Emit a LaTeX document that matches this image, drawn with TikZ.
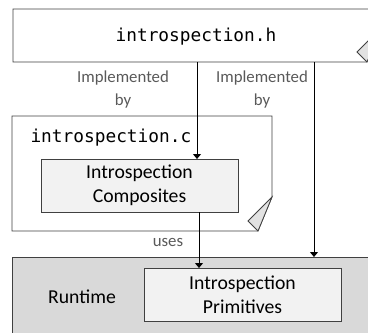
\documentclass[tikz,border=0pt]{standalone}
\usepackage{fontspec}
\setmainfont{Carlito}
\newfontfamily\codefont{DejaVu Sans Mono}
\usetikzlibrary{arrows.meta}
\definecolor{edge}{HTML}{404040}
\definecolor{boxfill}{HTML}{F2F2F2}
\definecolor{rtfill}{HTML}{D9D9D9}
\definecolor{foldfill}{HTML}{E2E2E2}
\definecolor{labelgray}{HTML}{595959}
\tikzset{
  frame/.style={draw=none, inner sep=0pt, outer sep=0pt},
  inner/.style={draw=edge, line width=0.8pt, fill=boxfill, inner sep=0pt, outer sep=0pt,
    align=center, font=\fontsize{19.7}{24}\selectfont},
  outline/.style={draw=edge, line width=0.8pt},
  fold/.style={draw=edge, line width=0.8pt, fill=foldfill, line join=miter},
  arr/.style={draw=black, line width=0.8pt, -{Triangle[width=8pt,length=5pt]}},
  lbl/.style={text=labelgray, align=center, font=\fontsize{16.8}{23}\selectfont},
}
\begin{document}
\begin{tikzpicture}[x=1pt,y=-1pt]
\useasboundingbox (0,0) rectangle (368,333);

% runtime layer (runs off the page)
\node[frame, minimum width=370pt, minimum height=90pt, anchor=north west] (rt) at (12,257) {};
\fill[rtfill] (rt.north west) rectangle (rt.south east);
\draw[outline] (rt.south west) -- (rt.north west) -- (rt.north east);
\node[font=\fontsize{19.7}{24}\selectfont] (rtlabel) at (82,297) {Runtime};

% header file with folded corner
\node[frame, minimum width=368pt, minimum height=53pt, anchor=north west] (hdr) at (13,9) {};
\draw[outline, fill=white] (hdr.north west) -- (hdr.north east) -- ([yshift=34pt]hdr.south east)
  -- ([xshift=-14pt]hdr.south east) -- (hdr.south west) -- cycle;
\draw[fold] ([yshift=34pt]hdr.south east) -- ([xshift=-24pt,yshift=10pt]hdr.south east)
  -- ([xshift=-14pt]hdr.south east) -- cycle;
\node[font=\codefont\fontsize{17.8}{20}\selectfont] (hname) at (196,37) {introspection.h};

% implementation file with folded corner
\node[frame, minimum width=260pt, minimum height=115pt, anchor=north west] (cfile) at (12,116) {};
\draw[outline, fill=white] (cfile.north west) -- (cfile.north east) -- ([yshift=34pt]cfile.south east)
  -- ([xshift=-14pt]cfile.south east) -- (cfile.south west) -- cycle;
\draw[fold] ([yshift=34pt]cfile.south east) -- ([xshift=-24pt,yshift=10pt]cfile.south east)
  -- ([xshift=-14pt]cfile.south east) -- cycle;
\node[font=\codefont\fontsize{17.8}{20}\selectfont, anchor=west] (cname) at (27,138) {introspection.c};

% inner components
\node[inner, minimum width=197pt, minimum height=53pt] (comp) at (139.5,185.5) {Introspection\\Composites};
\node[inner, minimum width=197pt, minimum height=53pt] (prim) at (242.5,294.5) {Introspection\\Primitives};

% connectors
\coordinate (c1) at (197,0);
\coordinate (c2) at (314,0);
\coordinate (c3) at (199,0);
\draw[arr] (c1 |- hdr.south) -- (c1 |- comp.north);
\draw[arr] (c2 |- hdr.south) -- (c2 |- rt.north);
\draw[arr] (c3 |- comp.south) -- (c3 |- prim.north);

% connector labels
\node[lbl] (l1) at (123,90) {Implemented\\by};
\node[lbl] (l2) at (262,90) {Implemented\\by};
\node[lbl] (l3) at (168,242) {uses};
\end{tikzpicture}
\end{document}
